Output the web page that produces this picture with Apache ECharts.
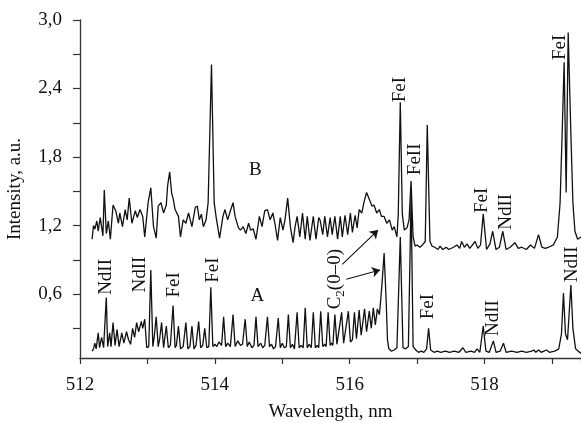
<!DOCTYPE html>
<html>
<head>
<meta charset="utf-8">
<script src="https://cdn.jsdelivr.net/npm/echarts@6.0.0/dist/echarts.min.js"></script>
<style>
  html, body { margin: 0; padding: 0; background: #fff; }
  #chart { width: 581px; height: 423px; }
</style>
</head>
<body>
<div id="chart"></div>
<script>
// spectrum A (lower trace)
const waveA = [512.18,512.20,512.22,512.24,512.27,512.29,512.32,512.35,512.39,512.41,512.44,512.46,512.49,512.52,512.55,512.58,512.62,512.65,512.69,512.72,512.75,512.78,512.81,512.84,512.87,512.91,512.93,512.96,512.99,513.02,513.05,513.08,513.10,513.13,513.16,513.18,513.21,513.24,513.28,513.31,513.34,513.38,513.41,513.43,513.46,513.49,513.53,513.57,513.60,513.63,513.66,513.69,513.72,513.76,513.79,513.82,513.85,513.88,513.91,513.94,513.97,514.00,514.03,514.06,514.10,514.13,514.16,514.19,514.23,514.27,514.30,514.34,514.38,514.41,514.45,514.48,514.51,514.55,514.58,514.61,514.64,514.68,514.71,514.74,514.78,514.81,514.84,514.87,514.90,514.94,514.97,515.00,515.03,515.06,515.09,515.12,515.15,515.18,515.22,515.25,515.28,515.31,515.34,515.37,515.40,515.43,515.46,515.49,515.52,515.54,515.57,515.60,515.63,515.65,515.68,515.71,515.73,515.75,515.78,515.81,515.83,515.88,515.91,515.93,515.98,516.01,516.04,516.07,516.10,516.14,516.17,516.22,516.25,516.29,516.32,516.35,516.38,516.41,516.44,516.46,516.48,516.51,516.54,516.56,516.58,516.62,516.66,516.70,516.75,516.79,516.83,516.87,516.91,516.94,516.98,517.02,517.06,517.10,517.14,517.17,517.20,517.25,517.30,517.35,517.42,517.48,517.55,517.62,517.68,517.72,517.80,517.85,517.89,517.93,517.98,518.02,518.07,518.13,518.17,518.23,518.28,518.32,518.40,518.48,518.55,518.62,518.70,518.73,518.76,518.80,518.84,518.88,518.92,518.96,519.04,519.10,519.14,519.17,519.20,519.23,519.28,519.31,519.35,519.39,519.43];
const intA = [0.10,0.12,0.17,0.12,0.26,0.13,0.22,0.13,0.57,0.14,0.26,0.14,0.35,0.15,0.29,0.14,0.26,0.17,0.27,0.20,0.16,0.30,0.22,0.35,0.27,0.36,0.30,0.38,0.13,0.14,0.81,0.14,0.22,0.40,0.14,0.20,0.35,0.13,0.32,0.13,0.15,0.50,0.13,0.15,0.32,0.12,0.14,0.35,0.12,0.14,0.32,0.12,0.15,0.36,0.13,0.15,0.30,0.13,0.14,0.66,0.14,0.16,0.14,0.18,0.15,0.40,0.14,0.17,0.14,0.42,0.14,0.19,0.15,0.16,0.38,0.14,0.18,0.13,0.15,0.40,0.14,0.17,0.13,0.15,0.40,0.14,0.16,0.12,0.14,0.39,0.13,0.17,0.13,0.14,0.42,0.13,0.16,0.12,0.44,0.13,0.15,0.13,0.48,0.13,0.16,0.13,0.44,0.13,0.15,0.13,0.45,0.14,0.16,0.14,0.44,0.15,0.17,0.15,0.42,0.16,0.15,0.44,0.17,0.16,0.45,0.18,0.20,0.44,0.21,0.46,0.24,0.47,0.27,0.45,0.30,0.48,0.33,0.47,0.42,0.55,0.70,0.96,0.55,0.20,0.12,0.10,0.11,0.13,1.10,0.13,0.12,0.14,1.45,0.14,0.11,0.09,0.10,0.09,0.12,0.30,0.11,0.09,0.10,0.09,0.10,0.09,0.10,0.09,0.13,0.09,0.10,0.09,0.12,0.09,0.32,0.10,0.09,0.19,0.09,0.10,0.17,0.09,0.10,0.09,0.10,0.09,0.10,0.11,0.09,0.11,0.09,0.10,0.11,0.09,0.10,0.12,0.25,0.61,0.25,0.20,0.68,0.30,0.12,0.10,0.08];

// spectrum B (upper trace)
const waveB = [512.18,512.20,512.22,512.25,512.27,512.30,512.34,512.36,512.39,512.42,512.45,512.49,512.53,512.57,512.59,512.63,512.67,512.70,512.73,512.77,512.82,512.85,512.89,512.93,512.96,513.01,513.05,513.09,513.13,513.16,513.20,513.24,513.28,513.30,513.33,513.36,513.38,513.41,513.46,513.49,513.53,513.57,513.61,513.66,513.71,513.74,513.77,513.80,513.83,513.87,513.90,513.95,513.99,514.02,514.07,514.12,514.15,514.19,514.23,514.27,514.30,514.35,514.38,514.42,514.46,514.50,514.53,514.57,514.61,514.66,514.70,514.74,514.78,514.82,514.86,514.89,514.93,514.97,515.01,515.04,515.08,515.12,515.16,515.19,515.22,515.26,515.30,515.34,515.37,515.41,515.46,515.50,515.54,515.56,515.60,515.63,515.67,515.71,515.74,515.78,515.82,515.86,515.89,515.93,515.97,516.01,516.04,516.08,516.11,516.14,516.18,516.21,516.25,516.29,516.33,516.36,516.40,516.44,516.47,516.51,516.55,516.59,516.63,516.66,516.70,516.72,516.75,516.78,516.81,516.85,516.88,516.91,516.94,516.97,517.00,517.04,517.08,517.12,517.15,517.19,517.22,517.26,517.31,517.34,517.38,517.43,517.47,517.54,517.59,517.63,517.66,517.70,517.74,517.78,517.80,517.86,517.90,517.94,517.98,518.03,518.08,518.12,518.17,518.22,518.27,518.32,518.38,518.45,518.50,518.55,518.62,518.68,518.74,518.80,518.85,518.90,518.95,519.02,519.08,519.12,519.15,519.18,519.21,519.24,519.28,519.31,519.34,519.38,519.43];
const intB = [1.08,1.20,1.17,1.24,1.15,1.27,1.11,1.51,1.13,1.24,1.08,1.38,1.33,1.22,1.31,1.19,1.34,1.25,1.44,1.22,1.33,1.27,1.34,1.28,1.10,1.40,1.53,1.19,1.09,1.37,1.40,1.31,1.38,1.55,1.67,1.48,1.44,1.34,1.28,1.10,1.25,1.22,1.31,1.19,1.36,1.37,1.25,1.30,1.19,1.25,1.40,2.61,1.40,1.27,1.09,1.28,1.34,1.25,1.33,1.40,1.28,1.18,1.16,1.19,1.13,1.22,1.16,1.17,1.08,1.28,1.19,1.33,1.34,1.25,1.31,1.22,1.07,1.27,1.16,1.25,1.44,1.19,1.05,1.19,1.28,1.10,1.31,1.08,1.28,1.07,1.28,1.08,1.27,1.25,1.12,1.28,1.10,1.27,1.12,1.28,1.08,1.28,1.10,1.29,1.12,1.31,1.14,1.29,1.18,1.34,1.31,1.40,1.49,1.43,1.37,1.38,1.31,1.34,1.28,1.28,1.22,1.25,1.16,1.19,1.10,1.30,2.28,1.30,1.16,1.18,1.25,1.59,1.10,1.02,1.03,1.01,1.03,1.06,2.08,1.06,1.02,1.01,0.99,1.02,0.99,1.01,0.99,1.01,1.03,1.00,1.06,1.01,1.04,1.00,1.01,1.06,1.00,1.03,1.30,0.99,1.04,1.15,0.99,1.01,1.15,0.99,1.01,1.05,1.00,1.01,0.99,1.03,1.00,1.12,1.01,1.00,1.01,1.03,1.10,1.40,2.00,2.63,1.49,2.89,2.00,1.40,1.15,1.08,1.10];

// axis ticks
const yLabelValues = [0.6, 1.2, 1.8, 2.4, 3.0];
const yTickValues = [0.3, 0.6, 0.9, 1.2, 1.5, 1.8, 2.1, 2.4, 2.7, 3.0];

// line annotations: [text, wavelength, intensity, rotated]
const notes = [
  ['NdII', 512.39, 0.75, true],
  ['NdII', 512.89, 0.77, true],
  ['FeI', 513.39, 0.68, true],
  ['FeI', 513.97, 0.81, true],
  ['A', 514.63, 0.58, false],
  ['B', 514.60, 1.69, false],
  ['C{s|2}(0–0)', 515.78, 0.73, true],
  ['FeI', 516.75, 2.39, true],
  ['FeII', 516.97, 1.78, true],
  ['FeI', 517.96, 1.42, true],
  ['NdII', 518.32, 1.32, true],
  ['FeI', 517.16, 0.49, true],
  ['NdII', 518.13, 0.39, true],
  ['NdII', 519.29, 0.86, true],
  ['FeI', 519.12, 2.76, true]
];
// arrows from the C2 label to both traces
const arrows = [
  [[515.89, 0.86], [516.42, 1.16]],
  [[515.95, 0.73], [516.45, 0.81]]
];

const font = 'Liberation Serif, Times New Roman, serif';
const ink = '#111';

let chart = echarts.init(document.getElementById('chart'), null, { renderer: 'canvas' });

let option = {
  animation: false,
  backgroundColor: '#fff',
  grid: { left: 80, right: 0, top: 20, bottom: 65, containLabel: false, outerBoundsMode: 'none' },
  xAxis: {
    type: 'value',
    min: 512,
    max: 519.43,
    interval: 1,
    name: 'Wavelength, nm',
    nameLocation: 'middle',
    nameGap: 45,
    nameTextStyle: { fontFamily: font, fontSize: 19, color: ink },
    axisLine: { lineStyle: { color: '#333', width: 1.3 } },
    axisTick: { length: 6, lineStyle: { color: '#333', width: 1.2 } },
    axisLabel: {
      fontFamily: font, fontSize: 19, color: ink, margin: 18,
      formatter: v => (Math.round(v) % 2 === 0 ? String(Math.round(v)) : '')
    },
    splitLine: { show: false }
  },
  yAxis: {
    type: 'value',
    min: 0.04,
    max: 3.0,
    name: 'Intensity, a.u.',
    nameLocation: 'middle',
    nameGap: 55,
    nameTextStyle: { fontFamily: font, fontSize: 19, color: ink },
    axisLine: { show: true, lineStyle: { color: '#333', width: 1.3 } },
    axisTick: { show: true, length: 7, customValues: yTickValues, lineStyle: { color: '#333', width: 1.2 } },
    axisLabel: {
      fontFamily: font, fontSize: 19, color: ink, margin: 18,
      customValues: yLabelValues,
      formatter: v => v.toFixed(1).replace('.', ',')
    },
    splitLine: { show: false }
  },
  series: [
    {
      name: 'A',
      type: 'line',
      data: waveA.map((w, i) => [w, intA[i]]),
      showSymbol: false,
      lineStyle: { color: ink, width: 1.3 },
      markPoint: {
        symbol: 'circle',
        symbolSize: 1,
        itemStyle: { color: 'rgba(0,0,0,0)' },
        silent: true,
        data: notes.map(n => ({
          coord: [n[1], n[2]],
          label: {
            show: true,
            position: 'inside',
            rotate: n[3] ? 90 : 0,
            formatter: n[0],
            fontFamily: font,
            fontSize: 19,
            lineHeight: 24,
            color: ink,
            rich: { s: { fontFamily: font, fontSize: 13, lineHeight: 14, verticalAlign: 'bottom', color: ink } }
          }
        }))
      },
      markLine: {
        silent: true,
        symbol: ['none', 'arrow'],
        symbolSize: 8,
        label: { show: false },
        lineStyle: { color: ink, width: 1.1, type: 'solid' },
        data: arrows.map(a => [{ coord: a[0] }, { coord: a[1] }])
      }
    },
    {
      name: 'B',
      type: 'line',
      data: waveB.map((w, i) => [w, intB[i]]),
      showSymbol: false,
      lineStyle: { color: ink, width: 1.3 }
    }
  ]
};

option && chart.setOption(option);
</script>
</body>
</html>
